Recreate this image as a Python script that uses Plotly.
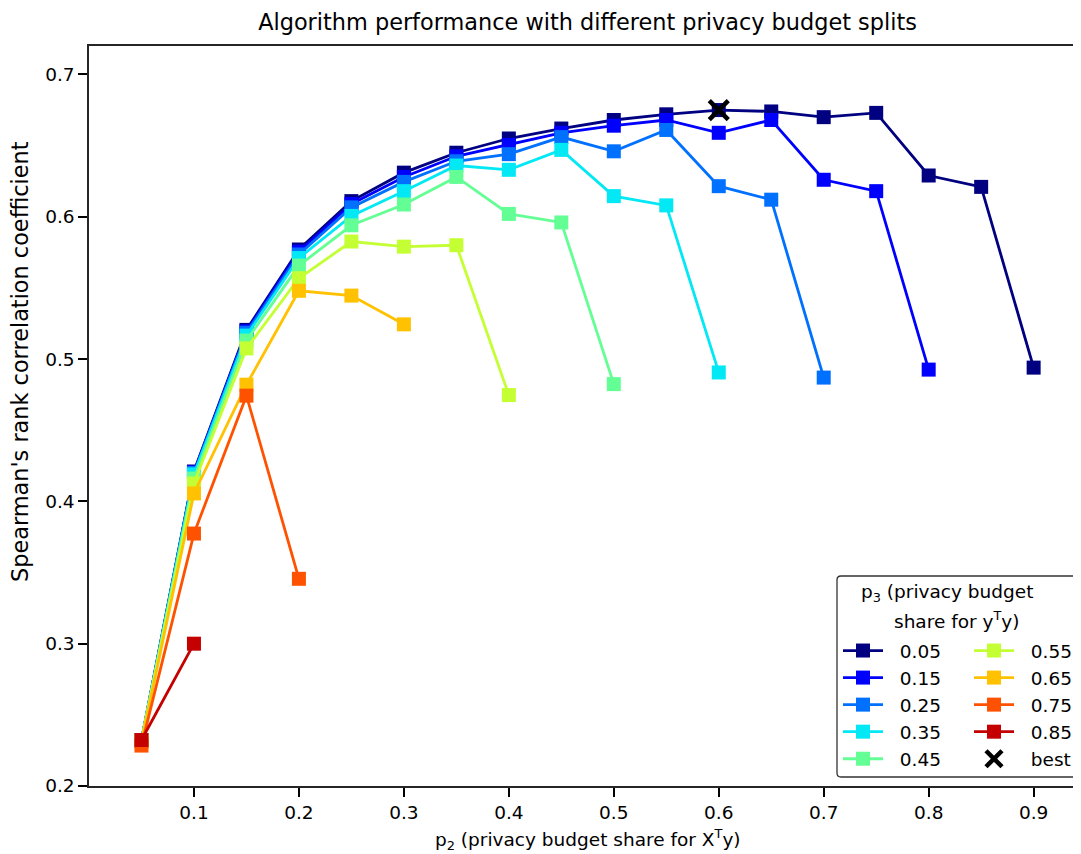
import plotly.graph_objects as go

# ---------------- data ----------------
p2_all = [0.05, 0.10, 0.15, 0.20, 0.25, 0.30, 0.35, 0.40, 0.45, 0.50,
          0.55, 0.60, 0.65, 0.70, 0.75, 0.80, 0.85, 0.90]

p3_labels = ["0.05", "0.15", "0.25", "0.35", "0.45", "0.55", "0.65", "0.75", "0.85"]

rho_p3_005 = [0.232, 0.421, 0.5205, 0.577, 0.611, 0.631, 0.645, 0.655, 0.662,
              0.668, 0.672, 0.675, 0.674, 0.670, 0.673, 0.629, 0.621, 0.494]
rho_p3_015 = [0.232, 0.4205, 0.5195, 0.5755, 0.609, 0.628, 0.6425, 0.6505, 0.659,
              0.664, 0.668, 0.659, 0.668, 0.626, 0.618, 0.4926]
rho_p3_025 = [0.232, 0.420, 0.5185, 0.5735, 0.6066, 0.6245, 0.639, 0.644, 0.656,
              0.646, 0.661, 0.6215, 0.612, 0.487]
rho_p3_035 = [0.232, 0.419, 0.5165, 0.571, 0.6006, 0.618, 0.636, 0.633, 0.647,
              0.6145, 0.608, 0.4906]
rho_p3_045 = [0.232, 0.416, 0.513, 0.5657, 0.594, 0.6086, 0.628, 0.602, 0.596, 0.4824]
rho_p3_055 = [0.232, 0.4126, 0.5075, 0.5568, 0.5826, 0.579, 0.580, 0.4747]
rho_p3_065 = [0.231, 0.4056, 0.482, 0.548, 0.5446, 0.5244]
rho_p3_075 = [0.2284, 0.3774, 0.4743, 0.3456]
rho_p3_085 = [0.2323, 0.300]

series_rho = [rho_p3_005, rho_p3_015, rho_p3_025, rho_p3_035, rho_p3_045,
              rho_p3_055, rho_p3_065, rho_p3_075, rho_p3_085]

best_p2 = [0.60]
best_rho = [0.675]

x_ticks = [0.1, 0.2, 0.3, 0.4, 0.5, 0.6, 0.7, 0.8, 0.9]
y_ticks = [0.2, 0.3, 0.4, 0.5, 0.6, 0.7]

# jet colours
colors = ["#000080", "#0000ff", "#0070ff", "#02e8f4", "#63ff94",
          "#c4ff33", "#ffc100", "#ff5200", "#c40000"]

FONT = "DejaVu Sans"
OFF = 8                       # browser body margin
W, H = 1081 - OFF, 854 - OFF
# plot area in page pixels
PL, PR, PT, PB = 89, 1081, 46, 786


def px(x):
    return (x - PL) / (PR - PL)


def py(y):
    return (PB - y) / (PB - PT)


fig = go.Figure()
for i, (lab, rho) in enumerate(zip(p3_labels, series_rho)):
    fig.add_trace(go.Scatter(
        x=p2_all[:len(rho)], y=rho, mode="lines+markers",
        name="\u00a0\u00a0" + lab,
        line=dict(color=colors[i], width=2.8),
        marker=dict(symbol="square", size=14, color=colors[i]),
        legend="legend" if i < 5 else "legend2",
    ))

fig.add_trace(go.Scatter(
    x=best_p2, y=best_rho, mode="markers", name="\u00a0\u00a0best",
    marker=dict(symbol="x-thin", size=19, color="black",
                line=dict(color="black", width=4.5)),
    legend="legend2",
))

# legend frame (rounded rectangle)
x0, x1 = px(837), px(1077)
y0, y1 = py(777), py(576)
rx, ry = 4 / (PR - PL), 4 / (PB - PT)
path = (f"M{x0+rx},{y0} L{x1-rx},{y0} Q{x1},{y0} {x1},{y0+ry} "
        f"L{x1},{y1-ry} Q{x1},{y1} {x1-rx},{y1} L{x0+rx},{y1} "
        f"Q{x0},{y1} {x0},{y1-ry} L{x0},{y0+ry} Q{x0},{y0} {x0+rx},{y0} Z")
fig.add_shape(type="path", path=path, xref="paper", yref="paper",
              line=dict(color="#333333", width=1.3), fillcolor="white",
              layer="above")

ann_font = dict(family=FONT, size=18.5, color="black")
fig.add_annotation(x=px(947), y=py(593), xref="paper", yref="paper",
                   text="p<sub>3</sub> (privacy budget", showarrow=False,
                   font=ann_font, xanchor="center", yanchor="middle")
fig.add_annotation(x=px(957), y=py(620), xref="paper", yref="paper",
                   text="share for y<sup>T</sup>y)", showarrow=False,
                   font=ann_font, xanchor="center", yanchor="middle")

# axis titles
fig.add_annotation(x=px(587.5), y=py(840), xref="paper", yref="paper",
                   text="p<sub>2</sub> (privacy budget share for X<sup>T</sup>y)",
                   showarrow=False, font=dict(family=FONT, size=18.5, color="black"),
                   xanchor="center", yanchor="middle")
fig.add_annotation(x=px(20), y=py(362), xref="paper", yref="paper",
                   text="Spearman's rank correlation coefficient", textangle=-90,
                   showarrow=False, font=dict(family=FONT, size=22.4, color="black"),
                   xanchor="center", yanchor="middle")

leg_common = dict(font=dict(family=FONT, size=18.5, color="black"),
                  bgcolor="rgba(0,0,0,0)", borderwidth=0, itemwidth=40,
                  xanchor="left", yanchor="top", orientation="v",
                  traceorder="normal", itemclick=False, itemdoubleclick=False)

fig.update_layout(
    width=W, height=H,
    margin=dict(l=PL - OFF, r=(1081 - PR), t=PT - OFF, b=854 - PB, pad=0),
    paper_bgcolor="white", plot_bgcolor="white",
    font=dict(family=FONT, size=18.5, color="black"),
    title=dict(text="Algorithm performance with different privacy budget splits",
               x=px(587.5), xref="paper", xanchor="center",
               y=1 - (22 - OFF) / H, yanchor="middle",
               font=dict(family=FONT, size=22.4, color="black")),
    legend=dict(x=px(838), y=py(632), **leg_common),
    legend2=dict(x=px(969), y=py(632), **leg_common),
    xaxis=dict(range=[0.0, (PR - PL) / 1049.6], tickvals=x_ticks,
               ticktext=[f"{v:.1f}" for v in x_ticks],
               showline=True, linecolor="#262626", linewidth=1.5, mirror=True,
               ticks="outside", ticklen=9, tickwidth=2, tickcolor="black",
               showgrid=False, zeroline=False,
               tickfont=dict(family=FONT, size=18.5, color="black")),
    yaxis=dict(range=[0.2, 0.72], tickvals=y_ticks,
               ticktext=[f"{v:.1f}" for v in y_ticks],
               showline=True, linecolor="#262626", linewidth=1.5, mirror=False,
               ticks="outside", ticklen=9, tickwidth=2, tickcolor="black",
               showgrid=False, zeroline=False,
               tickfont=dict(family=FONT, size=18.5, color="black")),
)

fig.write_html("out.html")
